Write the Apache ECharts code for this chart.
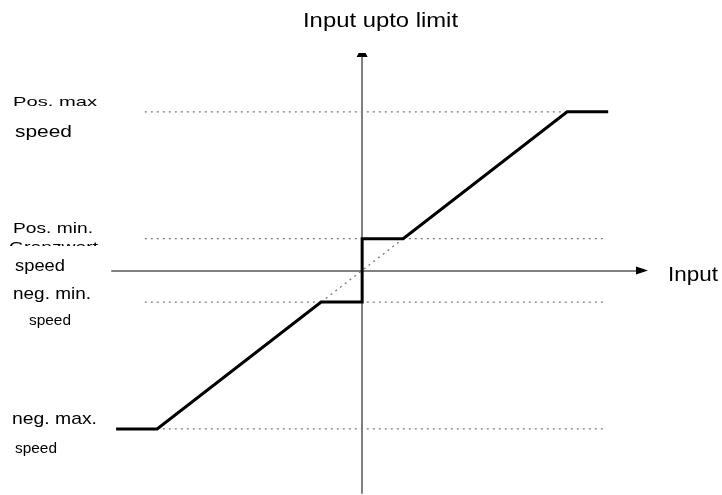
<!DOCTYPE html>
<html>
<head>
<meta charset="utf-8">
<script src="https://cdn.jsdelivr.net/npm/echarts@6/dist/echarts.min.js"></script>
<style>html,body{margin:0;padding:0;background:#fff;}#c{width:722px;height:495px;}</style>
</head>
<body>
<div id="c"></div>
<script>
// Characteristic curve: input -> output (limited)
var inputX  = [-6, -5, -1, 0, 0, 1, 5, 6];
var outputY = [-5, -5, -1, -1, 1, 1, 5, 5];
// Dotted guide levels
var guideLevels = [5, 1, -1, -5];
var guideStart  = [-5.3, -5.3, -5.3, -5.3];
var guideEnd    = [5, 5.9, 5.9, 5.9];
// Dotted reference diagonal (unlimited input)
var diagX = [-1, 1];
var diagY = [-1, 1];
// Axis ranges
var xRange = [-6.1, 6.8];
var yRange = [-7.02, 6.73];
// Texts
var titleText = 'Input upto limit';
var xAxisText = 'Input';
var levelLabels = ['Pos. max', 'speed', 'Pos. min.', 'Grenzwert', 'speed', 'neg. min.', 'speed', 'neg. max.', 'speed'];

var FONT = '"Liberation Sans", Arial, sans-serif';
var ctx = document.createElement('canvas').getContext('2d');
function measure(t, size) { ctx.font = size + 'px ' + FONT; return ctx.measureText(t).width; }
function txt(t, x, y, size, targetW, z) {
  var w = measure(t, size);
  return {
    type: 'text', x: x, y: y, z: z || 10,
    scaleX: targetW ? targetW / w : 1,
    style: { text: t, x: 0, y: 0, fontSize: size, fontFamily: FONT, fill: '#000', verticalAlign: 'middle', align: 'left' }
  };
}

var series = [];
for (var i = 0; i < guideLevels.length; i++) {
  series.push({
    type: 'line', symbol: 'none', silent: true, z: 1,
    data: [[guideStart[i], guideLevels[i]], [guideEnd[i], guideLevels[i]]],
    lineStyle: { color: '#7a7a7a', width: 1.3, type: [2, 4] }
  });
}
series.push({
  type: 'line', symbol: 'none', silent: true, z: 1,
  data: diagX.map(function (x, k) { return [x, diagY[k]]; }),
  lineStyle: { color: '#7a7a7a', width: 1.3, type: [2, 4] }
});
series.push({
  type: 'line', symbol: 'none', silent: true, z: 5,
  data: inputX.map(function (x, k) { return [x, outputY[k]]; }),
  lineStyle: { color: '#000', width: 3, join: 'miter' }
});

var axisCommon = {
  type: 'value',
  axisTick: { show: false },
  axisLabel: { show: false },
  splitLine: { show: false },
  axisLine: { show: true, onZero: true, lineStyle: { color: '#808080', width: 2 } }
};

var chart = echarts.init(document.getElementById('c'), null, { renderer: 'canvas' });
var texts = [
  txt(titleText, 303, 21, 21, 155),
  txt(xAxisText, 668, 275, 21, 50),
  txt(levelLabels[0], 13, 102, 13, 84),
  txt(levelLabels[1], 15, 132, 17, 57),
  txt(levelLabels[2], 13, 228.5, 15, 80),
  txt(levelLabels[3], 9, 248, 15, 89, 8),
  { type: 'rect', z: 9, shape: { x: 0, y: 246, width: 140, height: 14 }, style: { fill: '#fff' } },
  txt(levelLabels[4], 15, 267, 16, 50),
  txt(levelLabels[5], 13, 294, 17, 78),
  txt(levelLabels[6], 29, 321, 14, 42),
  txt(levelLabels[7], 12, 419, 17, 85),
  txt(levelLabels[8], 15, 449, 14, 42)
];
chart.setOption({
  animation: false,
  backgroundColor: '#fff',
  grid: { left: 112, right: 81, top: 57, bottom: 2 },
  xAxis: Object.assign({}, axisCommon, { min: xRange[0], max: xRange[1] }),
  yAxis: Object.assign({}, axisCommon, { min: yRange[0], max: yRange[1] }),
  series: series,
  graphic: texts
});
// Arrow heads at the axis ends, placed through the axis scales
var xEnd = chart.convertToPixel({ gridIndex: 0 }, [xRange[1], 0]);
var yEnd = chart.convertToPixel({ gridIndex: 0 }, [0, yRange[1]]);
texts.push({
  type: 'polygon', z: 12,
  shape: { points: [[xEnd[0] - 5, xEnd[1] - 4], [xEnd[0] + 7, xEnd[1]], [xEnd[0] - 5, xEnd[1] + 4]] },
  style: { fill: '#000' }
});
texts.push({
  type: 'polygon', z: 12,
  shape: { points: [[yEnd[0] - 3.5, yEnd[1] - 4], [yEnd[0] + 3.5, yEnd[1] - 4], [yEnd[0] + 5.5, yEnd[1]], [yEnd[0] - 5.5, yEnd[1]]] },
  style: { fill: '#000' }
});
chart.setOption({ graphic: texts });
</script>
</body>
</html>
